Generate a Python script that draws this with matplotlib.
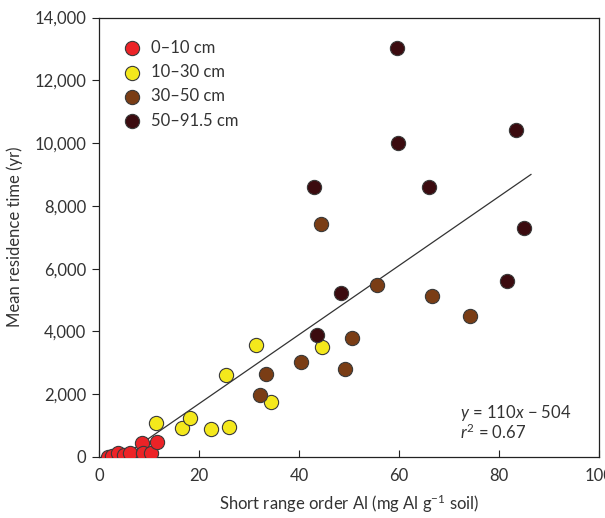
import matplotlib
matplotlib.use('Agg')
import matplotlib.pyplot as plt
import numpy as np

plt.rcParams['font.family'] = ['Lato', 'DejaVu Sans']
plt.rcParams['mathtext.fontset'] = 'custom'
plt.rcParams['mathtext.rm'] = 'Lato'
plt.rcParams['mathtext.it'] = 'Lato:italic'

# Depth classes and their points (x: short range order Al, y: mean residence time)
labels = ['0\u201310 cm', '10\u201330 cm', '30\u201350 cm', '50\u201391.5 cm']
colors = ['#ec2327', '#f4e81c', '#7a3d15', '#3b0b0f']

x_0_10 = [1.8, 2.6, 3.8, 5.0, 6.2, 8.6, 8.8, 10.4, 11.6]
y_0_10 = [0, 30, 130, 60, 130, 450, 130, 130, 480]

x_10_30 = [11.4, 16.7, 18.3, 22.5, 26.1, 25.5, 31.5, 34.5, 44.7]
y_10_30 = [1080, 913, 1231, 891, 964, 2609, 3564, 1760, 3510]

x_30_50 = [32.2, 33.5, 40.5, 44.5, 49.2, 50.7, 55.7, 66.7, 74.3]
y_30_50 = [1973, 2631, 3013, 7414, 2816, 3777, 5463, 5123, 4486]

x_50_91 = [43.7, 48.5, 43.0, 59.6, 59.8, 66.1, 83.5, 85.1, 81.7]
y_50_91 = [3882, 5208, 8590, 13013, 9990, 8600, 10427, 7308, 5600]

xs = [x_0_10, x_10_30, x_30_50, x_50_91]
ys = [y_0_10, y_10_30, y_30_50, y_50_91]

# regression line y = 110x - 504
slope, intercept = 110, -504
fit_x = np.array([4.6, 86.4])

fig = plt.figure(figsize=(6.05, 5.18), dpi=100)
ax = fig.add_axes([0.1636, 0.1178, 0.8264, 0.8484])

ax.plot(fit_x, slope * fit_x + intercept, color='#333333', lw=0.9, zorder=1)

for x, y, c, lab in zip(xs, ys, colors, labels):
    ax.scatter(x, y, s=105, color=c, edgecolors='#3a3a3a', linewidths=0.8,
               label=lab, zorder=3)

ax.set_xlim(0, 100)
ax.set_ylim(0, 14000)
ax.set_xticks([0, 20, 40, 60, 80, 100])
ax.set_yticks(np.arange(0, 14001, 2000))
ax.set_yticklabels(['{:,}'.format(v) for v in range(0, 14001, 2000)])
ax.tick_params(axis='x', direction='in', length=5, width=0.8, labelsize=12,
               pad=8, colors='#222222', labelcolor='#333333')
ax.tick_params(axis='y', direction='out', length=5, width=0.8, labelsize=12,
               pad=4, colors='#222222', labelcolor='#333333')
for sp in ax.spines.values():
    sp.set_linewidth(0.9)
    sp.set_color('#222222')

ax.set_xlabel('Short range order Al (mg Al g$^{\u22121}$ soil)', fontsize=12,
              color='#333333', labelpad=6)
ax.set_ylabel('Mean residence time (yr)', fontsize=12, color='#333333', labelpad=8)

ax.text(72.3, 1230, '$y$ = 110$x$ \u2212 504', fontsize=12, color='#333333')
ax.text(72.3, 560, '$r^2$ = 0.67', fontsize=12, color='#333333')

ax.legend(loc='upper left', bbox_to_anchor=(0.02, 0.965), borderaxespad=0,
          frameon=False, fontsize=12, handletextpad=0.1, labelspacing=0.5,
          scatterpoints=1, labelcolor='#333333')

fig.savefig('out.png', dpi=100)
